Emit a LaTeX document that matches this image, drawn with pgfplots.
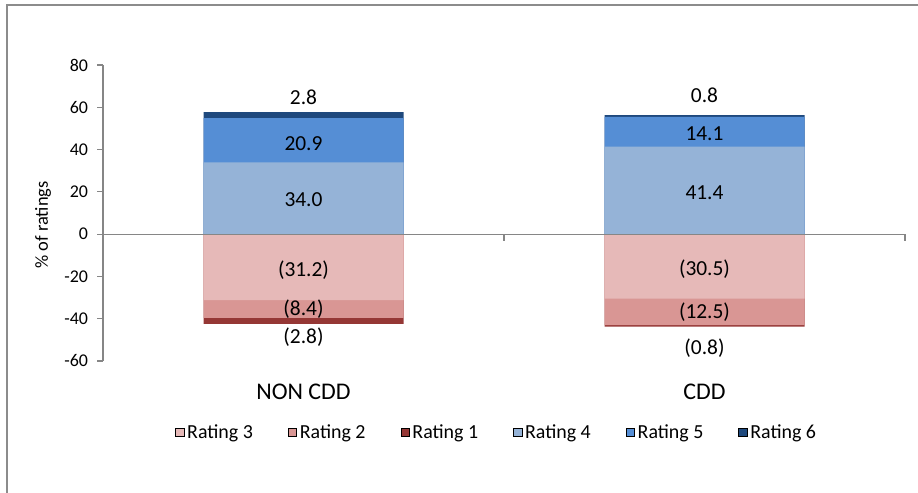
\documentclass[border=0pt]{standalone}
\usepackage{pgfplots}
\pgfplotsset{compat=1.18}
\usepackage{pgfplotstable}
\usepackage{fontspec}
\setmainfont{Carlito}
\definecolor{rthree}{HTML}{E6B9B8}
\definecolor{rtwo}{HTML}{D99694}
\definecolor{rone}{HTML}{953735}
\definecolor{rfour}{HTML}{95B3D7}
\definecolor{rfive}{HTML}{558ED5}
\definecolor{rsix}{HTML}{1F497D}
\definecolor{axgray}{HTML}{868686}
\definecolor{framegray}{HTML}{8C8C8C}
\pgfplotstableread{
x r3 r2 r1 r4 r5 r6
0 -31.2 -8.4 -2.8 34.0 20.9 2.8
1 -30.5 -12.5 -0.8 41.4 14.1 0.8
}\ratings
\pgfplotstableread{
x y lab
0 64.6 2.8
0 42.9 20.9
0 16.1 34.0
0 -16.8 (31.2)
0 -35.6 (8.4)
0 -48.8 (2.8)
1 65.5 0.8
1 47.4 14.1
1 19.4 41.4
1 -16.5 (30.5)
1 -36.9 (12.5)
1 -53.8 (0.8)
}\labeltab
\begin{document}
\begin{tikzpicture}
\begin{axis}[
  at={(103bp,132bp)}, anchor=south west,
  scale only axis, width=802bp, height=296bp,
  xmin=-0.5, xmax=1.5, ymin=-60, ymax=80,
  axis lines*=left,
  x axis line style={draw=none},
  y axis line style={axgray, line width=1.2bp},
  xtick={0,1}, xticklabels={NON CDD, CDD},
  xtick style={draw=none},
  ytick={-60,-40,...,80},
  ytick style={axgray, line width=1.2bp},
  tick align=outside,
  major tick length=5.5bp,
  xticklabel style={font=\fontsize{24}{28}\selectfont, yshift=-14bp},
  yticklabel style={font=\fontsize{18}{22}\selectfont, xshift=-6bp},
  /pgf/number format/assume math mode=true,
  ylabel={\% of ratings},
  ylabel style={font=\fontsize{18.5}{22}\selectfont, at={(axis description cs:-0.0748,0.459)}, anchor=center},
  legend columns=6,
  legend style={draw=none, fill=none, at={(axis description cs:0.4915,-0.241)}, anchor=center,
    font=\fontsize{20}{24}\selectfont,
    /tikz/every even column/.append style={column sep=32bp},
    nodes={inner xsep=3bp}},
  legend image code/.code={\fill[#1] (0bp,-4.3bp) rectangle (8.5bp,4.3bp);},
  clip=false,
]
\addlegendimage{fill=rthree}\addlegendentry{Rating 3}
\addlegendimage{fill=rtwo}\addlegendentry{Rating 2}
\addlegendimage{fill=rone}\addlegendentry{Rating 1}
\addlegendimage{fill=rfour}\addlegendentry{Rating 4}
\addlegendimage{fill=rfive}\addlegendentry{Rating 5}
\addlegendimage{fill=rsix}\addlegendentry{Rating 6}
% negative stack (drawn from the outermost cumulative value inwards)
\addplot[ybar, bar width=200bp, bar shift=0pt, fill=rone, draw=none, forget plot]
  table[x=x, y expr=\thisrow{r3}+\thisrow{r2}+\thisrow{r1}] {\ratings};
\addplot[ybar, bar width=200bp, bar shift=0pt, fill=rtwo, draw=none, forget plot]
  table[x=x, y expr=\thisrow{r3}+\thisrow{r2}] {\ratings};
\addplot[ybar, bar width=200bp, bar shift=0pt, fill=rthree, draw=none, forget plot]
  table[x=x, y=r3] {\ratings};
% positive stack
\addplot[ybar, bar width=200bp, bar shift=0pt, fill=rsix, draw=none, forget plot]
  table[x=x, y expr=\thisrow{r4}+\thisrow{r5}+\thisrow{r6}] {\ratings};
\addplot[ybar, bar width=200bp, bar shift=0pt, fill=rfive, draw=none, forget plot]
  table[x=x, y expr=\thisrow{r4}+\thisrow{r5}] {\ratings};
\addplot[ybar, bar width=200bp, bar shift=0pt, fill=rfour, draw=none, forget plot]
  table[x=x, y=r4] {\ratings};
% zero axis
\draw[axgray, line width=1.2bp] (axis cs:-0.5,0) -- (axis cs:1.5,0);
\draw[axgray, line width=1.2bp] (axis cs:0.5,0) -- ([yshift=-7bp]axis cs:0.5,0);
\draw[axgray, line width=1.2bp] (axis cs:1.5,0) -- ([yshift=-7bp]axis cs:1.5,0);
% value labels
\addplot[draw=none, mark=none, forget plot, nodes near coords, point meta=explicit symbolic,
  every node near coord/.append style={anchor=center, font=\fontsize{21.5}{25}\selectfont, text=black}]
  table[x=x, y=y, meta=lab] {\labeltab};
\end{axis}
\draw[framegray, line width=2bp] (6.5bp,-20bp) -- (6.5bp,488bp) -- (940bp,488bp);
\pgfresetboundingbox
\useasboundingbox (0,0) rectangle (918bp,493bp);
\end{tikzpicture}
\end{document}
